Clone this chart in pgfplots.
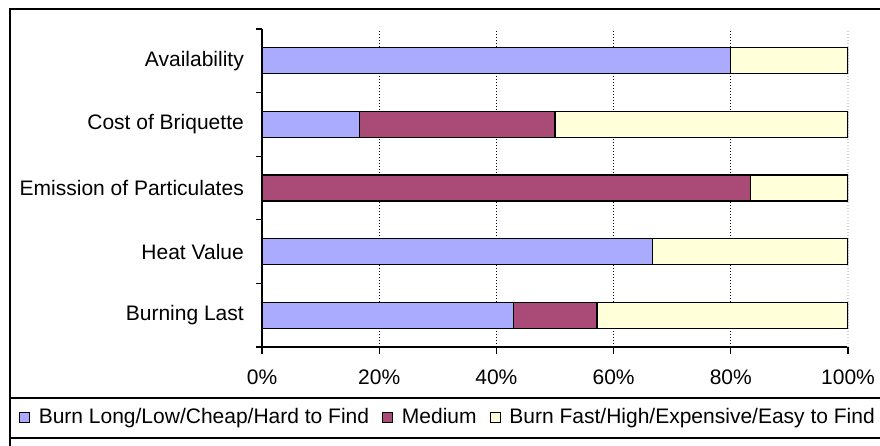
\documentclass[border=0pt]{standalone}
\usepackage{fontspec}
\setmainfont{Liberation Sans}
\usepackage{pgfplots}
\pgfplotsset{compat=1.18}
\definecolor{cLow}{HTML}{AAAAFF}
\definecolor{cMed}{HTML}{AA4A77}
\definecolor{cHigh}{HTML}{FFFFD9}
\begin{document}
\begin{tikzpicture}
\path[use as bounding box] (0pt,0pt) rectangle (880pt,446pt);
% chart frame and legend box
\draw[line width=1.5pt] (10pt,-2pt) -- (10pt,437pt) -- (885pt,437pt);
\draw[line width=1.5pt] (10pt,48pt) -- (885pt,48pt);
\draw[line width=1.5pt] (10pt,8pt) -- (885pt,8pt);
\begin{axis}[
    at={(262pt,99pt)}, anchor=south west,
    scale only axis, width=586pt, height=318pt,
    font=\fontsize{21}{25}\selectfont,
    xbar stacked, bar width=26pt,
    xmin=0, xmax=100, ymin=-0.5, ymax=4.5,
    axis x line=bottom, axis y line=left,
    axis line style={-, line width=1.3pt},
    tick align=outside,
    major tick length=7pt,
    minor tick length=6pt,
    xtick={0,20,40,60,80},
    xticklabels={0\%,20\%,40\%,60\%,80\%},
    extra x ticks={100},
    extra x tick labels={100\%},
    extra x tick style={grid style={gray!35, line width=1.2pt, dash pattern=on 1pt off 2pt}},
    xtick style={black, line width=1.3pt},
    xticklabel style={anchor=north, inner sep=0pt, yshift=-16pt},
    xmajorgrids,
    grid style={black, line width=1.2pt, dash pattern=on 1pt off 2pt},
    ytick={0,1,2,3,4},
    yticklabels={Burning Last,Heat Value,Emission of Particulates,Cost of Briquette,Availability},
    major y tick style={draw=none},
    minor ytick={-0.5,0.5,1.5,2.5,3.5,4.5},
    minor y tick style={draw=black, line width=1.3pt},
    yticklabel style={anchor=east, inner sep=0pt, xshift=-11pt},
    legend columns=3,
    legend style={at={(-0.4147,-0.2184)}, anchor=west, draw=none, fill=none,
        inner sep=0pt, outer sep=0pt, cells={anchor=base west, inner sep=0pt},
        /tikz/every odd column/.append style={column sep=6.5pt},
        /tikz/every even column/.append style={column sep=11pt}},
    legend image code/.code={\draw[#1, line width=1.3pt] (0pt,1pt) rectangle (10pt,11pt);},
    every axis plot/.append style={draw=black, line width=1.3pt},
]
% y: 0 Burning Last, 1 Heat Value, 2 Emission, 3 Cost, 4 Availability
\addplot[fill=cLow] coordinates {(42.86,0) (66.67,1) (0,2) (16.67,3) (80,4)};
\addlegendentry{Burn Long/Low/Cheap/Hard to Find}
\addplot[fill=cMed] coordinates {(14.29,0) (0,1) (83.33,2) (33.33,3) (0,4)};
\addlegendentry{Medium}
\addplot[fill=cHigh] coordinates {(42.86,0) (33.33,1) (16.67,2) (50,3) (20,4)};
\addlegendentry{Burn Fast/High/Expensive/Easy to Find}
\end{axis}
\end{tikzpicture}
\end{document}
